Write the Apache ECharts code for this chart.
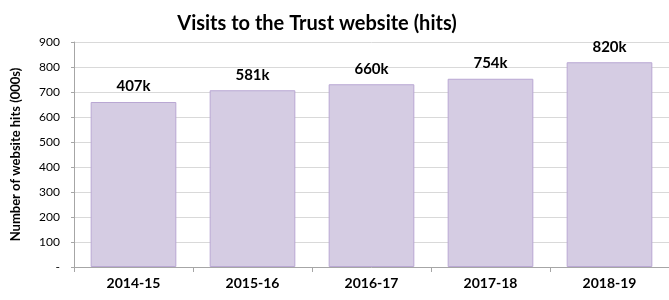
<!DOCTYPE html>
<html>
<head>
<meta charset="utf-8">
<script src="https://cdn.jsdelivr.net/npm/echarts@6/dist/echarts.min.js"></script>
<style>
  html, body { margin: 0; padding: 0; background: #fff; }
  #chart { width: 669px; height: 300px; }
</style>
</head>
<body>
<div id="chart"></div>
<script>
// 年度
var years = ["2014-15", "2015-16", "2016-17", "2017-18", "2018-19"];
// 柱高 (000s)
var hits = [660, 707, 731, 753, 819];
// 柱顶标签
var hitLabels = ["407k", "581k", "660k", "754k", "820k"];
var yTicks = [0, 100, 200, 300, 400, 500, 600, 700, 800, 900];

var myChart = echarts.init(document.getElementById("chart"));
var option = {
  animation: false,
  title: {
    text: "Visits to the Trust website (hits)",
    left: 312,
    textAlign: "center",
    top: 9,
    textStyle: {
      fontFamily: "Lato",
      fontSize: 20,
      fontWeight: "bold",
      color: "#000",
    },
  },
  grid: {
    left: 74,
    right: 0,
    top: 42,
    bottom: 33,
  },
  xAxis: {
    type: "category",
    data: years,
    axisLine: {
      lineStyle: { color: "#a6a6a6", width: 1 },
    },
    axisTick: {
      show: true,
      length: 5,
      lineStyle: { color: "#a6a6a6" },
    },
    axisLabel: {
      margin: 9,
      fontFamily: "Lato",
      fontSize: 14,
      fontWeight: "bold",
      color: "#000",
    },
  },
  yAxis: {
    type: "value",
    min: 0,
    max: 900,
    interval: 100,
    name: "Number of website hits (000s)",
    nameLocation: "middle",
    nameGap: 52,
    nameTextStyle: {
      fontFamily: "Lato",
      fontSize: 13,
      fontWeight: "bold",
      color: "#000",
    },
    axisLine: {
      show: true,
      lineStyle: { color: "#a6a6a6", width: 1 },
    },
    axisTick: {
      show: true,
      length: 3,
      lineStyle: { color: "#a6a6a6" },
    },
    axisLabel: {
      margin: 14,
      fontFamily: "Lato",
      fontSize: 12,
      color: "#000",
      formatter: function (v) {
        return yTicks.indexOf(v) === 0 ? "-" : String(v);
      },
    },
    splitLine: {
      show: true,
      lineStyle: { color: "#d9d9d9", width: 1 },
    },
  },
  series: [
    {
      type: "bar",
      data: hits,
      barCategoryGap: "28%",
      itemStyle: {
        color: "#d5cce3",
        borderColor: "#b9a7d3",
        borderWidth: 1,
      },
      label: {
        show: true,
        position: "top",
        distance: 8,
        fontFamily: "Lato",
        fontSize: 15,
        fontWeight: "bold",
        color: "#000",
        formatter: function (p) {
          return hitLabels[p.dataIndex];
        },
      },
    },
  ],
};
myChart.setOption(option);
</script>
</body>
</html>
